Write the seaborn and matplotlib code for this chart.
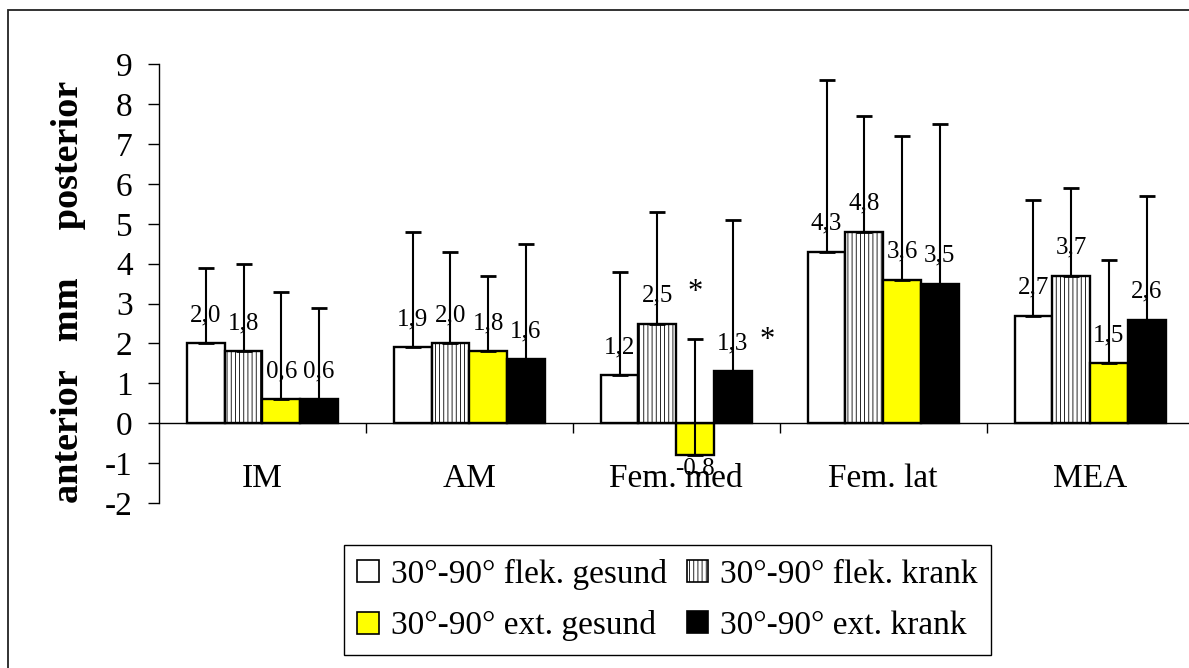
import matplotlib
matplotlib.use("Agg")
import matplotlib.pyplot as plt
from matplotlib.patches import Patch, Rectangle
import seaborn as sns
import pandas as pd
import numpy as np

# data (mm, anterior negative / posterior positive)
categories = ["IM", "AM", "Fem. med", "Fem. lat", "MEA"]
groups = ["30°-90° flek. gesund", "30°-90° flek. krank",
          "30°-90° ext. gesund", "30°-90° ext. krank"]

flek_gesund = [2.0, 1.9, 1.2, 4.3, 2.7]
flek_krank = [1.8, 2.0, 2.5, 4.8, 3.7]
ext_gesund = [0.6, 1.8, -0.8, 3.6, 1.5]
ext_krank = [0.6, 1.6, 1.3, 3.5, 2.6]

flek_gesund_sd = [1.9, 2.9, 2.6, 4.3, 2.9]
flek_krank_sd = [2.2, 2.3, 2.8, 2.9, 2.2]
ext_gesund_sd = [2.7, 1.9, 2.9, 3.6, 2.6]
ext_krank_sd = [2.3, 2.9, 3.8, 4.0, 3.1]

# significance stars (Fem. med): height in mm
star_y = [3.28, 2.08]

colors = ["white", "white", "#ffff00", "black"]
hatches = ["", "||||", "", ""]

values = [flek_gesund, flek_krank, ext_gesund, ext_krank]
sds = [flek_gesund_sd, flek_krank_sd, ext_gesund_sd, ext_krank_sd]

df = pd.DataFrame({
    "Region": categories * len(groups),
    "Gruppe": np.repeat(groups, len(categories)),
    "Wert": sum(values, []),
})

sns.set_style("white")
plt.rcParams["font.family"] = ["Liberation Serif", "DejaVu Serif"]
plt.rcParams["hatch.linewidth"] = 0.6
plt.rcParams["axes.unicode_minus"] = False
for key in ["text.color", "axes.labelcolor", "xtick.color", "ytick.color", "axes.edgecolor"]:
    plt.rcParams[key] = "black"

fig = plt.figure(figsize=(11.89, 6.68), dpi=100)
ax = fig.add_axes([0.1337, 0.2470, 0.8701, 0.6567])

sns.barplot(data=df, x="Region", y="Wert", hue="Gruppe", order=categories,
            hue_order=groups, palette=colors, saturation=1, width=0.73,
            errorbar=None, edgecolor="black", linewidth=1.7, legend=False, ax=ax)

# bars sorted left to right -> category i // 4, group i % 4
bars = sorted([p for p in ax.patches if isinstance(p, Rectangle) and p.get_width() > 0],
              key=lambda p: p.get_x())
ngrp = len(groups)
xs, ys, errs = [], [], []
for i, p in enumerate(bars):
    c, g = i // ngrp, i % ngrp
    p.set_hatch(hatches[g])
    xc = p.get_x() + p.get_width() / 2
    v = values[g][c]
    xs.append(xc)
    ys.append(v)
    errs.append(sds[g][c])
    txt = f"{v:.1f}".replace(".", ",")
    if v >= 0:
        ax.annotate(txt, (xc, v), xytext=(0, 16), textcoords="offset points",
                    ha="center", va="baseline", fontsize=18)
    else:
        ax.annotate(txt, (xc, v), xytext=(0, -1.5), textcoords="offset points",
                    ha="center", va="top", fontsize=18)

ax.errorbar(xs, ys, yerr=[np.zeros(len(errs)), errs], fmt="none", ecolor="black",
            elinewidth=1.5, capsize=5.5, capthick=2)

# stars at Fem. med
fm = categories.index("Fem. med")
bw = bars[0].get_width()
star_x = [xs[fm * ngrp + 2], xs[fm * ngrp + 3] + 0.9 * bw]
for sx, sy in zip(star_x, star_y):
    ax.text(sx, sy, "*", ha="center", va="center", fontsize=22)

ax.set_xlim(-0.5, 4.5)
ax.set_ylim(-2, 9)
ax.set_yticks(range(-2, 10))
ax.tick_params(axis="y", direction="out", length=8, width=1, pad=11, labelsize=24, left=True)

ax.spines["bottom"].set_position(("data", 0))
ax.spines["top"].set_visible(False)
ax.spines["right"].set_visible(False)
ax.spines["left"].set_linewidth(1)
ax.spines["bottom"].set_linewidth(1)

ax.set_xticks([0.5, 1.5, 2.5, 3.5])
ax.set_xticklabels([])
ax.set_xticks(range(len(categories)), minor=True)
ax.set_xticklabels(categories, minor=True)
ax.tick_params(axis="x", which="major", direction="out", length=7.5, width=1, bottom=True)
ax.tick_params(axis="x", which="minor", length=0, pad=29, labelsize=24)
ax.set_xlabel("")
ax.set_ylabel("")

fig.text(0.0656, 0.5636, "anterior   mm     posterior", rotation=90,
         rotation_mode="anchor", ha="center", va="baseline",
         fontsize=27.5, fontweight="bold")

# legend is filled column-wise, reorder so rows read flek / ext
handles = [Patch(facecolor=c, edgecolor="black", hatch=h, linewidth=1.2)
           for c, h in zip(colors, hatches)]
order = [0, 2, 1, 3]
fig.legend([handles[i] for i in order], [groups[i] for i in order], loc="center",
           bbox_to_anchor=(667.5 / 1189, 1 - 600 / 668),
           ncol=2, fontsize=24, frameon=True, fancybox=False, edgecolor="black",
           framealpha=1, handlelength=0.65, handleheight=0.65, handletextpad=0.35,
           columnspacing=0.6, labelspacing=0.62, borderpad=0.4)

# outer chart frame (only top and left edge are inside the image)
fig.patches.append(Rectangle((7.5 / 1189, -0.1), 1.2, 1.1 - 10.5 / 668, fill=False,
                             edgecolor="#222222", linewidth=1.3,
                             transform=fig.transFigure, figure=fig))

fig.savefig("out.png", dpi=100)
